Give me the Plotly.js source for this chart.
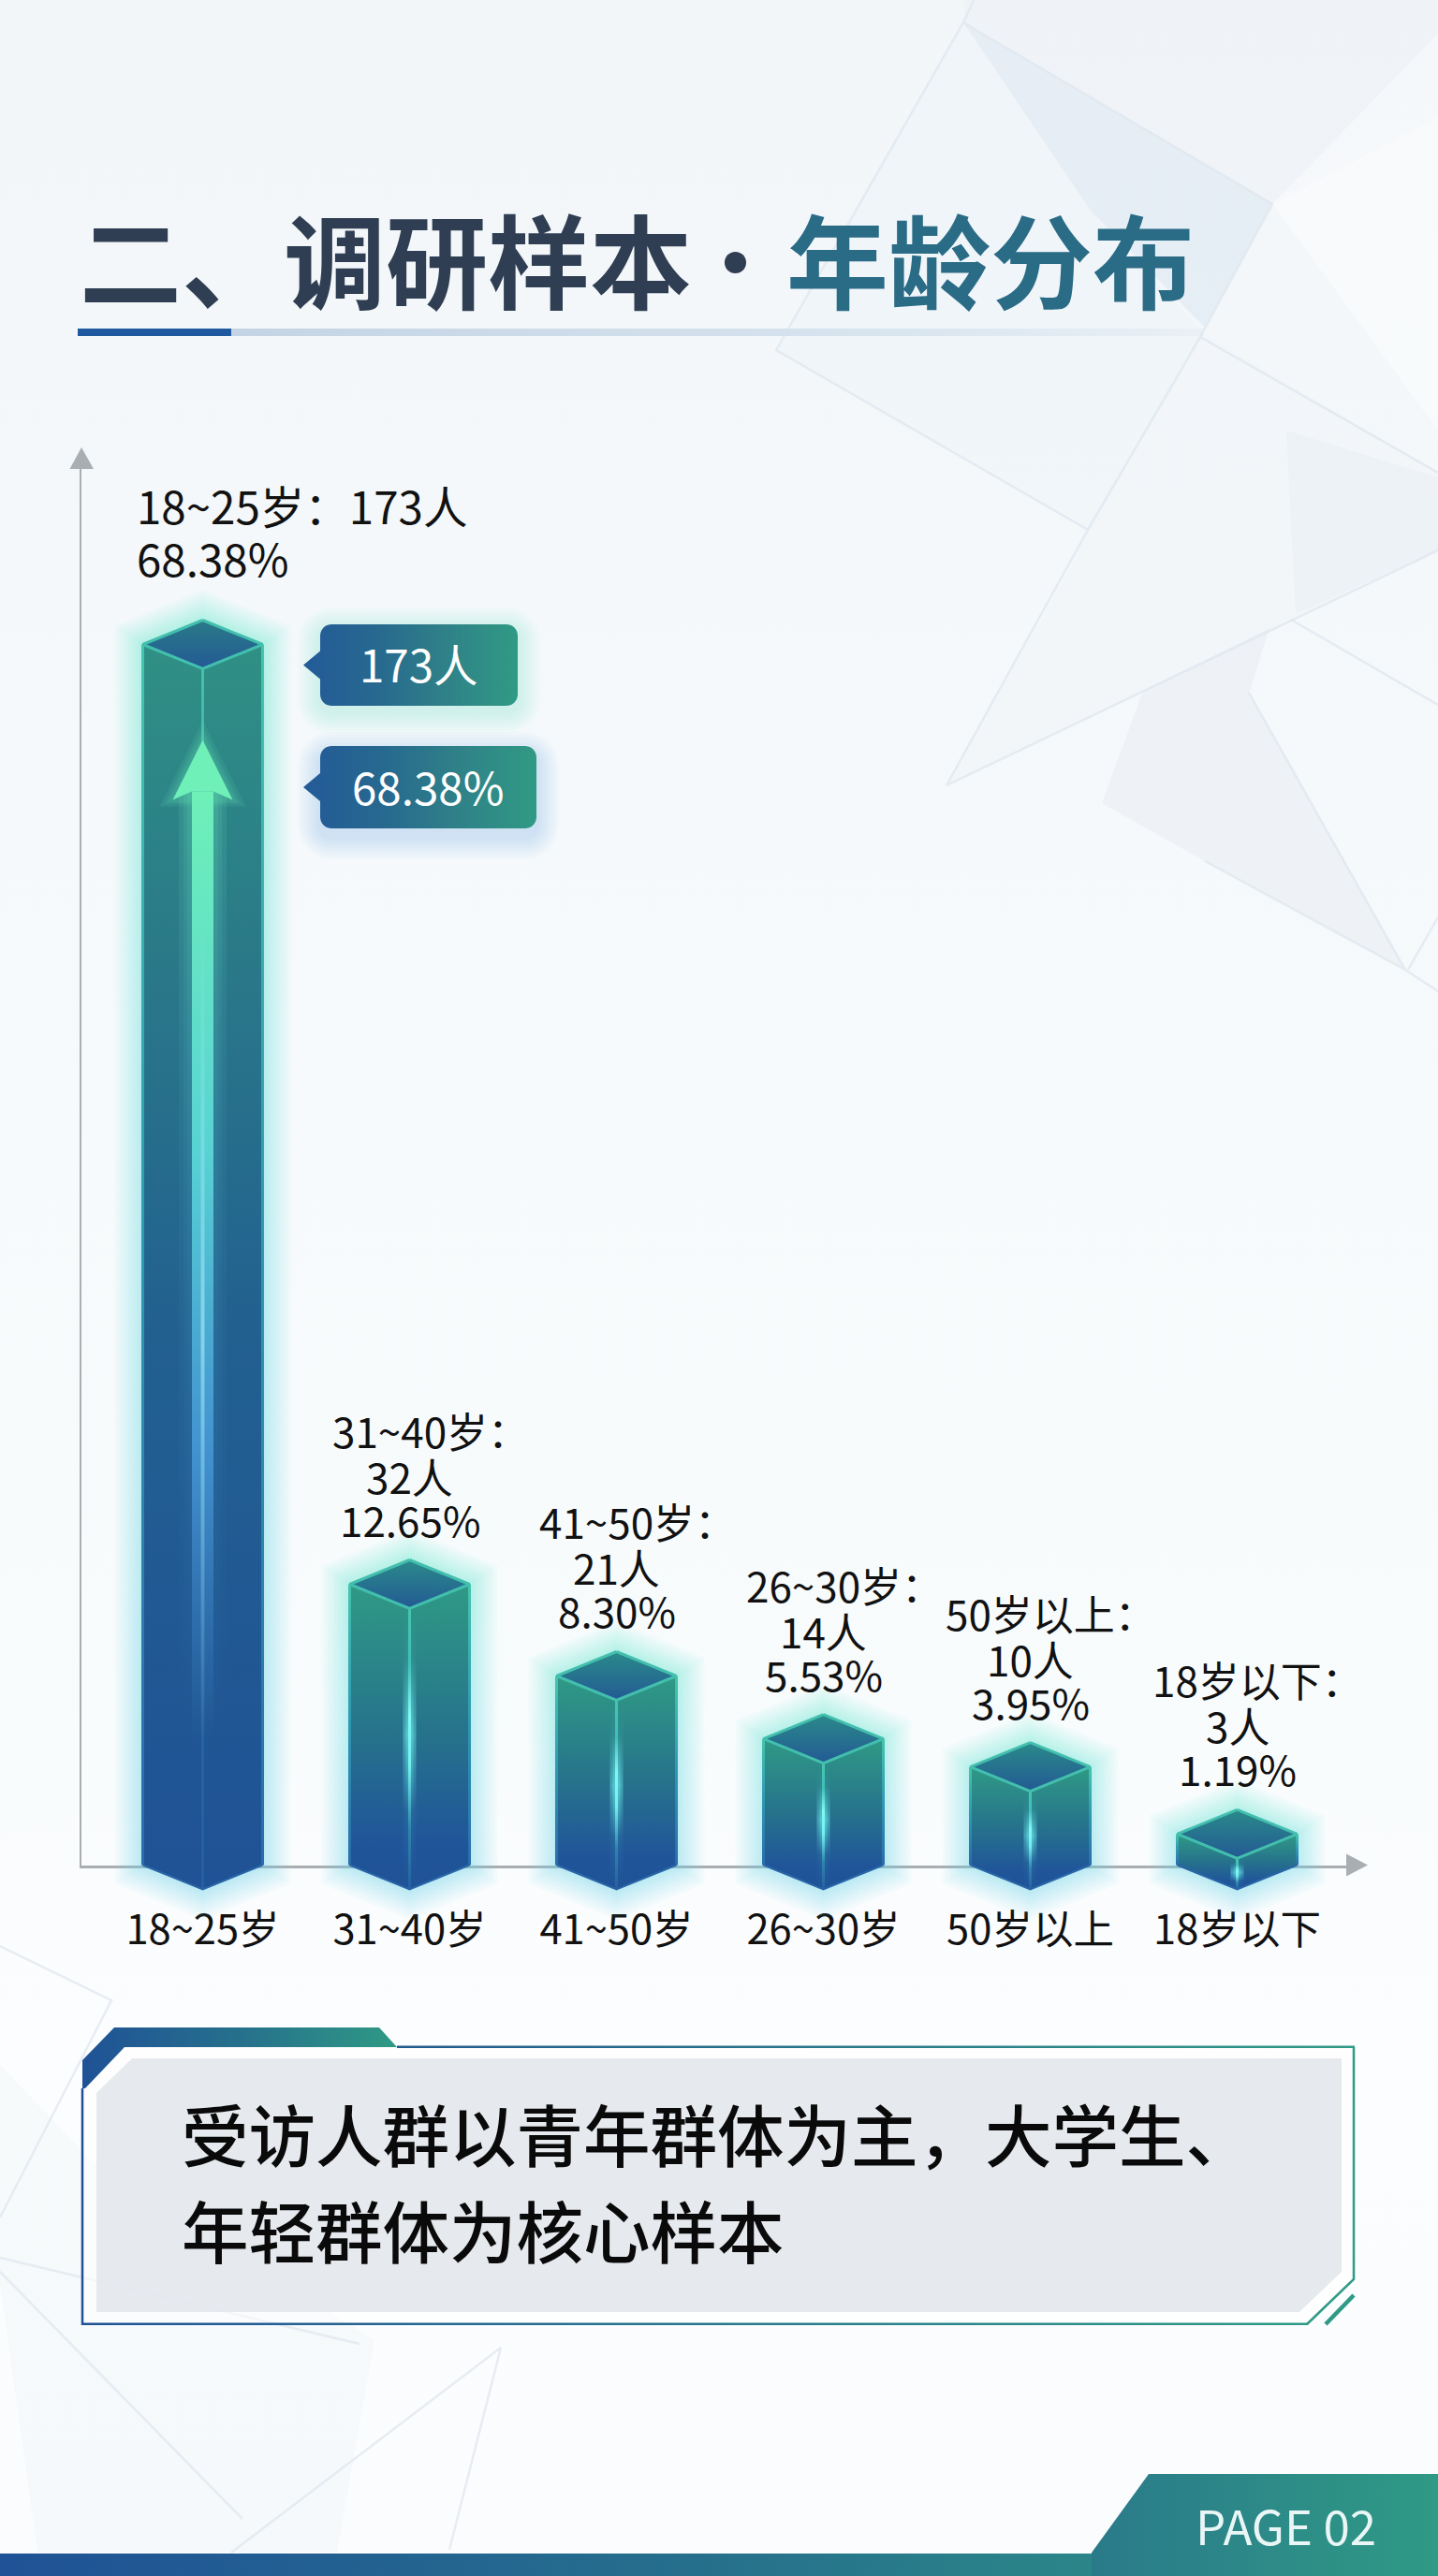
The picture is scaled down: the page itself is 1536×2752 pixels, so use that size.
<!DOCTYPE html>
<html><head><meta charset="utf-8">
<script src="https://cdn.plot.ly/plotly-3.0.1.min.js"></script>
<style>html,body{margin:0;padding:0;background:#f8fbfd}#chart{width:1536px;height:2752px}</style>
</head><body><div id="chart"></div>
<script>
// ---------- chart data ----------
const categories = ['18~25岁','31~40岁','41~50岁','26~30岁','50岁以上','18岁以下'];
const counts = [173,32,21,14,10,3];
const percents = ['68.38','12.65','8.30','5.53','3.95','1.19'];
// Bar heights as drawn on the picture's unmarked, non-linear value axis
const drawnHeights = [173,39.8,26.8,17.9,13.9,4.4];
const titleLeft = '二、调研样本';
const titleRight = '年龄分布';
const summaryLines = ['受访人群以青年群体为主，大学生、','年轻群体为核心样本'];
const pageLabel = 'PAGE 02';

// ---------- helpers ----------
const FONT = '"Noto Sans CJK SC","Noto Sans",sans-serif';
const SP = 221, K = 1304/173;
const cx = (i,d=0)=> i + d/SP;
const cy = (v,d=0)=> v - d/K;
const traces = [];
const base = {type:'scatter',hoverinfo:'skip',showlegend:false,cliponaxis:false};
function poly(pts,o,ax){
  traces.push(Object.assign({},base,{mode:'none',x:pts.map(p=>p[0]),y:pts.map(p=>p[1]),fill:'toself',xaxis:ax?'x3':'x',yaxis:ax?'y3':'y'},o));
}
function line(pts,color,width,ax){
  traces.push(Object.assign({},base,{mode:'lines',x:pts.map(p=>p[0]),y:pts.map(p=>p[1]),line:{color,width},xaxis:ax?'x3':'x',yaxis:ax?'y3':'y'}));
}
const flat = c=>({fillcolor:c});
const grad = (type,stops)=>({fillgradient:{type,colorscale:stops}});
function rrect(x0,y0,x1,y1,r){
  const pts=[];const n=6;
  [[x1-r,y0+r,-90],[x1-r,y1-r,0],[x0+r,y1-r,90],[x0+r,y0+r,180]].forEach(([a0,b0,a])=>{
    for(let k=0;k<=n;k++){const t=(a+90*k/n)*Math.PI/180;pts.push([a0+r*Math.cos(t),b0+r*Math.sin(t)]);}
  });
  return pts;
}

// ---------- background (page pixel coordinates on the hidden x/y axes) ----------
poly([[0,0],[1536,0],[1536,2752],[0,2752]],grad('vertical',[[0,'#fbfcfd'],[0.2,'#fcfdfe'],[0.4,'#f7fbfc'],[0.7,'#f5f9fb'],[1,'#f2f6f9']]));
poly([[1030,0],[1536,0],[1536,125],[1359,218],[1030,24]],flat('rgba(236,241,245,0.4)'));
poly([[1029,24],[1359,218],[1287,350],[1165,225]],flat('rgba(222,232,242,0.6)'));
poly([[829,374],[1029,24],[1165,225],[1287,357],[1162,566]],flat('rgba(236,242,247,0.3)'));
poly([[1536,36],[1359,218],[1536,460]],flat('rgba(255,255,255,0.4)'));
poly([[1287,357],[1162,566],[1147,600],[1011,839],[1536,588],[1536,505]],flat('rgba(240,243,248,0.4)'));
poly([[1374,460],[1536,510],[1536,588],[1384,656]],flat('rgba(226,232,239,0.3)'));
poly([[1177,858],[1221,738],[1356,671],[1334,740],[1501,1036],[1287,920]],flat('rgba(232,235,241,0.55)'));
poly([[0,2206],[100,2310],[400,2500],[360,2727],[40,2727],[0,2440]],flat('rgba(238,243,247,0.35)'));
const facetColor='rgba(222,230,238,0.7)';
[
 [[1040,0],[1029,24],[829,374],[1162,566],[1011,839],[1536,588]],
 [[1029,24],[1359,218],[1282,360]],
 [[1282,360],[1536,505]],
 [[1162,566],[1282,360]],
 [[1379,662],[1536,753]],
 [[1334,740],[1501,1036],[1287,920]],
 [[1501,1036],[1536,1059]],
 [[1504,1036],[1536,980]],
 [[0,2079],[119,2137],[0,2369]],
 [[0,2412],[384,2504]],
 [[0,2427],[259,2691]],
 [[247,2727],[535,2508],[480,2724]]
].forEach(p=>line(p,facetColor,2.5));

// Title rule
poly([[83,351],[247,351],[247,359],[83,359]],flat('#1f5aa0'));
poly([[247,351],[1285,351],[1285,359],[247,359]],grad('horizontal',[[0,'#c4d4e4'],[0.7,'#d9e5ef'],[1,'rgba(222,232,241,0.4)']]));

// Summary panel
poly([[88,2201],[133,2187],[1446,2187],[1446,2435],[1396,2483],[88,2483]],flat('rgba(255,255,255,0.55)'));
poly([[141,2199],[1433,2199],[1433,2427],[1388,2470],[103,2470],[103,2236]],flat('rgba(226,230,236,0.85)'));
const B='#1f5296',T='#2f9a85';
poly([[122,2166],[405,2166],[424,2187],[133,2187],[91,2231],[88,2231],[88,2201]],grad('horizontal',[[0,B],[0.5,'#26708c'],[1,T]]));
poly([[424,2185.5],[1447,2185.5],[1447,2188],[424,2188]],grad('horizontal',[[0,'#225a8e'],[1,T]]));
poly([[88,2481.5],[1397,2481.5],[1397,2484],[88,2484]],grad('horizontal',[[0,B],[1,T]]));
line([[88,2231],[88,2484]],B,2.5);
line([[1446,2187],[1446,2435],[1396,2483]],T,2.5);
line([[1446,2452],[1416,2483]],T,4.5);

// Footer
poly([[0,2728],[1536,2728],[1536,2752],[0,2752]],grad('horizontal',[[0,B],[0.5,'#26708c'],[1,T]]));
poly([[1227,2643],[1536,2643],[1536,2752],[1166,2752],[1166,2727]],grad('horizontal',[[0,'#2a7a8a'],[1,T]]));

// ---------- callouts ----------
function callout(x0,y0,x1,y1,glow,dyGlow){
  const my=(y0+y1)/2;
  [24,21,18,15,12,9,6,3].forEach(d=>poly(rrect(x0-d,y0-d+dyGlow,x1+d,y1+d+dyGlow,12+d),flat(glow)));
  const rr=rrect(x0,y0,x1,y1,12);
  poly(rr.slice(0,21).concat([[x0,my+15],[x0-18,my],[x0,my-15]]).concat(rr.slice(21)),
    grad('horizontal',[[0,'#235a98'],[0.35,'#27698f'],[0.65,'#2f8088'],[1,'#309a84']]));
}
callout(342,667,553,754,'rgba(90,215,190,0.03)',6);
callout(342,797,573,885,'rgba(70,130,210,0.027)',9);

// ---------- bars ----------
const HW=64, DEP=26;
// plain bars underneath the 3-D faces, on the real axes
traces.push({type:'bar',x:categories.map((c,i)=>i),y:drawnHeights,width:HW*2/SP,marker:{color:'#22608f',line:{width:0}},xaxis:'x2',yaxis:'y2',hoverinfo:'skip',showlegend:false});

drawnHeights.forEach((h,i)=>{
  // glow
  [30,27,24,21,18,15.5,13,10.5,8,6,4,2].forEach(d=>{
    poly([[cx(i,0),cy(h,-DEP-d*1.08)],[cx(i,HW+d),cy(h,-0.67*d)],[cx(i,HW+d),cy(0,0.67*d)],[cx(i,0),cy(0,DEP+d*1.08)],[cx(i,-HW-d),cy(0,0.67*d)],[cx(i,-HW-d),cy(h,-0.67*d)]],
      grad('vertical',[[0,'rgba(100,205,230,0.045)'],[0.5,'rgba(100,215,225,0.045)'],[1,'rgba(95,230,200,0.048)']]),1);
  });
  const scale = i===0
    ? [[0,'#1f5296'],[0.45,'#226090'],[0.76,'#2a7a88'],[1,'#2f9085']]
    : [[0,'#1f5296'],[0.15,'#20559a'],[0.5,'#26728c'],[1,'#2f9a85']];
  // faces
  poly([[cx(i,-HW),cy(h)],[cx(i),cy(h,DEP)],[cx(i),cy(0,DEP)],[cx(i,-HW),cy(0)]],grad('vertical',scale),1);
  poly([[cx(i,HW),cy(h)],[cx(i),cy(h,DEP)],[cx(i),cy(0,DEP)],[cx(i,HW),cy(0)]],grad('vertical',scale),1);
  // top
  poly([[cx(i),cy(h,-DEP)],[cx(i,HW),cy(h)],[cx(i),cy(h,DEP)],[cx(i,-HW),cy(h)]],grad('vertical',[[0,'#235a94'],[1,i===0?'#2a7a88':'#2a8a8a']]),1);
  // side edges
  const edge=[[0,'#2a6cab'],[0.5,'#2f98b2'],[1,'#46c4ae']];
  poly([[cx(i,-HW-1.5),cy(h)],[cx(i,-HW+1.5),cy(h)],[cx(i,-HW+1.5),cy(0)],[cx(i,-HW-1.5),cy(0)]],grad('vertical',edge),1);
  poly([[cx(i,HW-1.5),cy(h)],[cx(i,HW+1.5),cy(h)],[cx(i,HW+1.5),cy(0)],[cx(i,HW-1.5),cy(0)]],grad('vertical',edge),1);
  // bottom edge
  line([[cx(i,-HW),cy(0)],[cx(i),cy(0,DEP)],[cx(i,HW),cy(0)]],'#2a66a8',2,1);
  // centre line
  if(i>0){
    [7,4].forEach(w=>poly([[cx(i,-w),cy(h,DEP)],[cx(i,w),cy(h,DEP)],[cx(i,w),cy(0,DEP)],[cx(i,-w),cy(0,DEP)]],
      grad('vertical',[[0,'rgba(110,240,240,0)'],[0.28,'rgba(110,240,240,0.04)'],[0.55,'rgba(110,240,240,0.42)'],[0.82,'rgba(110,240,240,0.04)'],[1,'rgba(110,240,240,0)']]),1));
    poly([[cx(i,-1.5),cy(h,DEP)],[cx(i,1.5),cy(h,DEP)],[cx(i,1.5),cy(0,DEP)],[cx(i,-1.5),cy(0,DEP)]],
      grad('vertical',[[0,'#2560a2'],[0.22,'#2f86ae'],[0.44,'#70f0f0'],[0.62,'#80f8f4'],[0.8,'#3fc0b8'],[1,'#47c4b0']]),1);
  } else {
    poly([[cx(i,-1.4),cy(h,DEP)],[cx(i,1.4),cy(h,DEP)],[cx(i,1.4),cy(0,DEP)],[cx(i,-1.4),cy(0,DEP)]],
      grad('vertical',[[0,'#2560a2'],[0.6,'#2a74a0'],[1,'#48c4ae']]),1);
  }
  // top outline
  line([[cx(i),cy(h,-DEP)],[cx(i,HW),cy(h)],[cx(i),cy(h,DEP)],[cx(i,-HW),cy(h)],[cx(i),cy(h,-DEP)]],'#43bfae',3,1);
});

// Arrow on the tallest bar
(function(){
  const h=drawnHeights[0];
  const yTip=cy(h,102), yBase=cy(h,166), yNotch=cy(h,157), yEnd=cy(h,1170);
  [14,9,5].forEach(d=>{
    poly([[cx(0,-11.5-d),yNotch],[cx(0,11.5+d),yNotch],[cx(0,11.5+d),yEnd],[cx(0,-11.5-d),yEnd]],
      grad('vertical',[[0,'rgba(90,170,230,0)'],[0.6,'rgba(90,200,220,0.06)'],[1,'rgba(110,240,190,0.12)']]),1);
    poly([[cx(0),cy(h,102-d*1.5)],[cx(0,32+d),cy(h,166+d*0.5)],[cx(0,-32-d),cy(h,166+d*0.5)]],flat('rgba(110,240,190,0.10)'),1);
  });
  poly([[cx(0,-11.5),yNotch],[cx(0,11.5),yNotch],[cx(0,11.5),yEnd],[cx(0,-11.5),yEnd]],
    grad('vertical',[[0,'rgba(70,140,215,0)'],[0.3,'rgba(75,160,225,0.75)'],[0.62,'rgba(90,215,215,0.95)'],[1,'#6ef0b8']]),1);
  poly([[cx(0,-2),cy(h,300)],[cx(0,2),cy(h,300)],[cx(0,2),yEnd],[cx(0,-2),yEnd]],
    grad('vertical',[[0,'rgba(170,240,250,0)'],[0.5,'rgba(170,240,250,0.6)'],[1,'rgba(170,240,250,0)']]),1);
  poly([[cx(0),yTip],[cx(0,32),yBase],[cx(0,11.5),yNotch],[cx(0,-11.5),yNotch],[cx(0,-32),yBase]],flat('#6ef0b8'),1);
})();

// ---------- annotations ----------
const ann=[];
const txt=(x,y,text,size,color,o={})=>ann.push(Object.assign({x,y,text,xref:'x',yref:'y',showarrow:false,xanchor:'left',yanchor:'middle',font:{family:FONT,size,color}},o));
txt(83,274,titleLeft,109,'#2f3e52',{font:{family:FONT,size:109,color:'#2f3e52',weight:700}});
txt(785,274,'·',109,'#2f3e52',{xanchor:'center',font:{family:FONT,size:109,color:'#2f3e52',weight:400}});
txt(838,274,titleRight,109,'#2a6b86',{font:{family:FONT,size:109,color:'#2a6b86',weight:700}});
txt(447,708,counts[0]+'人',47.5,'#ffffff',{xanchor:'center'});
txt(457,839,percents[0]+'%',47.5,'#ffffff',{xanchor:'center'});
summaryLines.forEach((s,i)=>txt(192,[2278,2381][i],s,71.5,'#0a0a0a',{font:{family:FONT,size:71.5,color:'#0a0a0a',weight:500}}));
txt(1373,2697,pageLabel,51,'#eaf6f6',{xanchor:'center'});
categories.forEach((c,i)=>{
  const h=drawnHeights[i];
  const l=(text,dy,o={})=>ann.push(Object.assign({x:i,y:h,xref:'x2',yref:'y2',yshift:dy,text,showarrow:false,xanchor:'center',yanchor:'middle',font:{family:FONT,size:44,color:'#111111'}},o));
  if(i===0){
    const o={xanchor:'left',xshift:-73,font:{family:FONT,size:47.5,color:'#111111'}};
    l(c+'：'+counts[i]+'人',149,o);
    l(percents[i]+'%',93,o);
  }else{
    l('\u3000'+c+'：',165);
    l(counts[i]+'人',116);
    l(percents[i]+'%',70);
  }
});

// ---------- axes arrows ----------
const grey='#a9aeb3';
const shapes=[
 {type:'path',xref:'x',yref:'y',path:'M87,478 L100,501 L74.5,501 Z',fillcolor:grey,line:{width:0},layer:'above'},
 {type:'path',xref:'x',yref:'y',path:'M1461,1992.5 L1438,1980.5 L1438,2004.5 Z',fillcolor:grey,line:{width:0},layer:'above'}
];

const layout={
  width:1536,height:2752,margin:{l:0,r:0,t:0,b:0},
  paper_bgcolor:'#f8fbfd',plot_bgcolor:'rgba(0,0,0,0)',showlegend:false,hovermode:false,
  font:{family:FONT},
  xaxis:{domain:[0,1],range:[0,1536],visible:false,fixedrange:true},
  yaxis:{domain:[0,1],range:[2752,0],visible:false,fixedrange:true},
  xaxis2:{domain:[86.5/1536,1438/1536],range:[(86.5-216.5)/SP,(1438-216.5)/SP],anchor:'y2',
    tickmode:'array',tickvals:categories.map((c,i)=>i),ticktext:categories,ticks:'',ticklabelstandoff:29,
    tickfont:{family:FONT,size:43.5,color:'#111111'},showline:true,linecolor:grey,linewidth:3,showgrid:false,zeroline:false,layer:'below traces',fixedrange:true},
  yaxis2:{domain:[(2752-1992.5)/2752,(2752-501)/2752],range:[0,(1992.5-501)/K],anchor:'x2',showticklabels:false,ticks:'',
    showline:true,linecolor:grey,linewidth:2,showgrid:false,zeroline:false,layer:'below traces',fixedrange:true},
  // full-page twin of the value scale, so the 3-D faces may hang below the baseline
  xaxis3:{domain:[0,1],range:[-216.5/SP,(1536-216.5)/SP],visible:false,fixedrange:true,anchor:'y3'},
  yaxis3:{domain:[0,1],range:[-(2752-1992.5)/K,1992.5/K],visible:false,fixedrange:true,anchor:'x3'},
  barmode:'overlay',annotations:ann,shapes
};
Plotly.newPlot('chart',traces,layout,{displayModeBar:false,staticPlot:true});
</script></body></html>
